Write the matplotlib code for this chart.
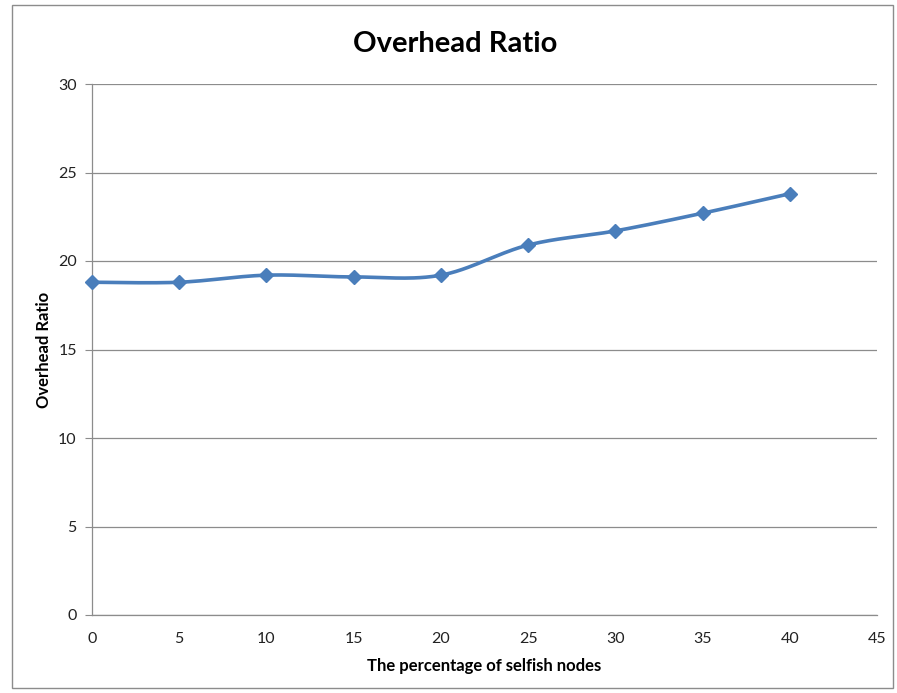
import numpy as np
import matplotlib
matplotlib.use("Agg")
import matplotlib.pyplot as plt
from matplotlib.patches import Rectangle

plt.rcParams['font.family'] = ['Lato', 'DejaVu Sans']

# Data
selfish_pct = [0, 5, 10, 15, 20, 25, 30, 35, 40]
overhead_ratio = [18.8, 18.8, 19.2, 19.1, 19.2, 20.9, 21.7, 22.7, 23.8]
x_ticks = [0, 5, 10, 15, 20, 25, 30, 35, 40, 45]
y_ticks = [0, 5, 10, 15, 20, 25, 30]

LINE_COLOR = '#4A7EBB'
GRID_COLOR = '#8C8C8C'


def smooth_curve(xs, ys, n=30):
    """Cubic Bezier smoothing through every point (spreadsheet-style smoothed line)."""
    xs = np.asarray(xs, float)
    ys = np.asarray(ys, float)
    px, py = [], []
    m = len(xs)
    for i in range(m - 1):
        x0, y0 = xs[max(i - 1, 0)], ys[max(i - 1, 0)]
        x1, y1 = xs[i], ys[i]
        x2, y2 = xs[i + 1], ys[i + 1]
        x3, y3 = xs[min(i + 2, m - 1)], ys[min(i + 2, m - 1)]
        c1x, c1y = x1 + (x2 - x0) / 6, y1 + (y2 - y0) / 6
        c2x, c2y = x2 - (x3 - x1) / 6, y2 - (y3 - y1) / 6
        t = np.linspace(0, 1, n)
        bx = (1 - t) ** 3 * x1 + 3 * (1 - t) ** 2 * t * c1x + 3 * (1 - t) * t ** 2 * c2x + t ** 3 * x2
        by = (1 - t) ** 3 * y1 + 3 * (1 - t) ** 2 * t * c1y + 3 * (1 - t) * t ** 2 * c2y + t ** 3 * y2
        px.extend(bx)
        py.extend(by)
    return np.array(px), np.array(py)


fig = plt.figure(figsize=(8.97, 6.93), dpi=100)
W, H = 897, 693

# Chart frame
fig.patches.append(Rectangle((12 / W, 5 / H), 881 / W, 683 / H, transform=fig.transFigure,
                             fill=False, edgecolor='#8C8C8C', linewidth=1.0))

ax = fig.add_axes([92 / W, (H - 615) / H, (877 - 92) / W, (615 - 84) / H])
ax.set_xlim(0, 45)
ax.set_ylim(0, 30)
ax.set_xticks(x_ticks)
ax.set_yticks(y_ticks)
ax.set_xticklabels([str(v) for v in x_ticks])
ax.set_yticklabels([str(v) for v in y_ticks])
ax.grid(axis='y', color=GRID_COLOR, linewidth=0.9)
ax.set_axisbelow(True)
for side in ['top', 'right']:
    ax.spines[side].set_visible(False)
for side in ['left', 'bottom']:
    ax.spines[side].set_color(GRID_COLOR)
    ax.spines[side].set_linewidth(0.9)
ax.tick_params(axis='y', length=5, color=GRID_COLOR, labelsize=11.5, pad=6, labelcolor='#222222')
ax.tick_params(axis='x', length=0, labelsize=11.5, pad=12, labelcolor='#222222')

sx, sy = smooth_curve(selfish_pct, overhead_ratio)
ax.plot(sx, sy, color=LINE_COLOR, linewidth=2.6, solid_capstyle='round', zorder=3)
ax.plot(selfish_pct, overhead_ratio, linestyle='none', marker='D', markersize=7.5,
        color=LINE_COLOR, zorder=4, clip_on=False)

fig.text(455 / W, 1 - 44 / H, 'Overhead Ratio', ha='center', va='center',
         fontsize=21, fontweight='bold')
ax.set_xlabel('The percentage of selfish nodes', fontsize=12, fontweight='bold', labelpad=9)
ax.set_ylabel('Overhead Ratio', fontsize=12, fontweight='bold', labelpad=4)

fig.savefig('out.png', dpi=100)
